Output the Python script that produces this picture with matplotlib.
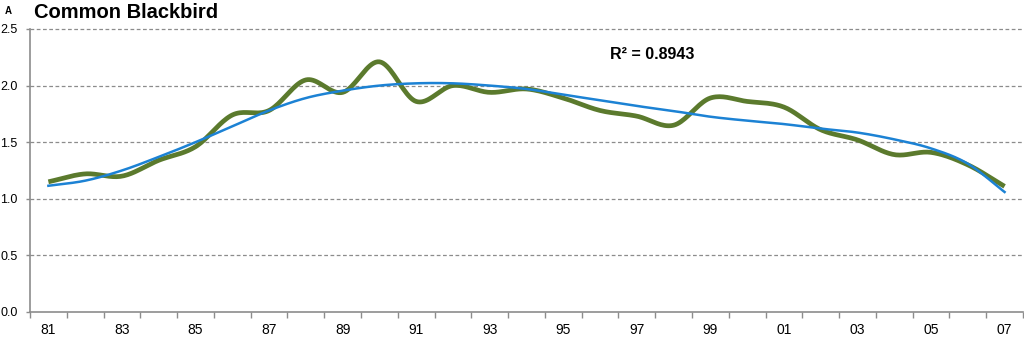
import numpy as np
import matplotlib
matplotlib.use("Agg")
import matplotlib.pyplot as plt

plt.rcParams['font.family'] = ['Liberation Sans', 'DejaVu Sans']

years = list(range(1981, 2008))
year_labels = [f"{y % 100:02d}" for y in years]
index = [1.15, 1.22, 1.20, 1.34, 1.46, 1.74, 1.78, 2.05, 1.94, 2.21,
         1.86, 2.00, 1.94, 1.97, 1.89, 1.78, 1.73, 1.65, 1.89, 1.86,
         1.81, 1.61, 1.52, 1.39, 1.41, 1.30, 1.11]
trend = [1.115, 1.16, 1.25, 1.37, 1.50, 1.64, 1.78, 1.89, 1.955, 2.00,
         2.02, 2.02, 2.00, 1.97, 1.92, 1.87, 1.82, 1.775, 1.725, 1.69,
         1.66, 1.62, 1.585, 1.525, 1.445, 1.31, 1.06]
r2_text = "R² = 0.8943"

GREEN = "#5b7a2d"
BLUE = "#1c82d4"
GRID = "#8c8c8c"


def catmull_rom(x, y, n=20):
    # smoothed line through the points, like a spreadsheet "smoothed line"
    x = np.asarray(x, float)
    y = np.asarray(y, float)
    px = np.concatenate([[2 * x[0] - x[1]], x, [2 * x[-1] - x[-2]]])
    py = np.concatenate([[2 * y[0] - y[1]], y, [2 * y[-1] - y[-2]]])
    xs, ys = [], []
    t = np.linspace(0, 1, n, endpoint=False)
    for i in range(1, len(px) - 2):
        for p, out in ((px, xs), (py, ys)):
            p0, p1, p2, p3 = p[i - 1], p[i], p[i + 1], p[i + 2]
            out.extend(0.5 * ((2 * p1) + (-p0 + p2) * t
                              + (2 * p0 - 5 * p1 + 4 * p2 - p3) * t ** 2
                              + (-p0 + 3 * p1 - 3 * p2 + p3) * t ** 3))
    xs.append(x[-1])
    ys.append(y[-1])
    return np.array(xs), np.array(ys)


pos = np.arange(len(years))
sx, sy = catmull_rom(pos, index)
tx, ty = catmull_rom(pos, trend)

fig = plt.figure(figsize=(10.24, 3.37), dpi=100)
ax = fig.add_axes([0.0293, 0.0742, 0.9697, 0.8398])

for v in [0.5, 1.0, 1.5, 2.0, 2.5]:
    ax.axhline(v, color=GRID, lw=0.9, ls=(0, (3, 2)), zorder=1, clip_on=False)

ax.plot(sx, sy, color=GREEN, lw=3.4, solid_capstyle="butt", zorder=3)
ax.plot(tx, ty, color=BLUE, lw=1.8, zorder=4)

ax.set_xlim(-0.5, len(years) - 0.5)
ax.set_ylim(0, 2.5)
yt = [0, 0.5, 1.0, 1.5, 2.0, 2.5]
ax.set_yticks(yt)
ax.set_yticklabels([f"{v:.1f}" for v in yt], fontsize=9)
ax.set_xticks(pos[::2])
ax.set_xticklabels(year_labels[::2], fontsize=10)
ax.set_xticks(np.arange(-0.5, len(years), 1), minor=True)
ax.tick_params(axis="x", which="major", length=0, pad=8)
ax.tick_params(axis="x", which="minor", length=4, color=GRID, width=1)
ax.tick_params(axis="y", length=3, color=GRID, width=1, pad=6)

for s in ["top", "right"]:
    ax.spines[s].set_visible(False)
for s in ["left", "bottom"]:
    ax.spines[s].set_color(GRID)
    ax.spines[s].set_linewidth(1.2)

fig.text(0.5955, 0.838, r2_text, fontsize=11.5, fontweight="bold", va="center", ha="left")
fig.text(0.005, 0.967, "A", fontsize=7, fontweight="bold", va="center")
fig.text(0.033, 0.962, "Common Blackbird", fontsize=14.5, fontweight="bold", va="center")

fig.savefig("out.png", dpi=100)
